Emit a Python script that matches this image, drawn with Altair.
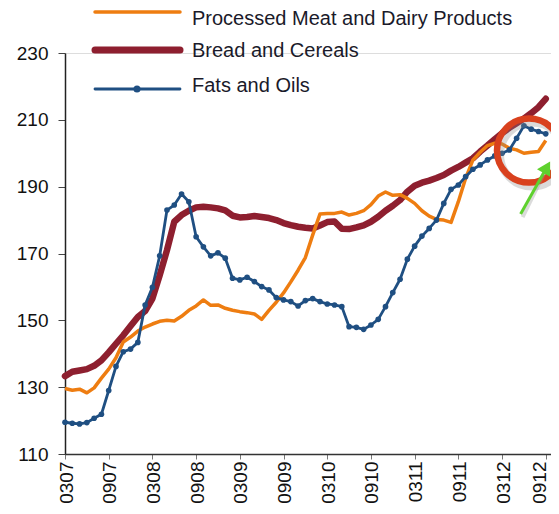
import altair as alt
import pandas as pd

# ---- data ----
tick_labels = ["0307", "0907", "0308", "0908", "0309", "0909",
               "0310", "0910", "0311", "0911", "0312", "0912"]
tick_months = [0, 6, 12, 18, 24, 30, 36, 42, 48, 54, 60, 66]

processed_meat_dairy = [
    129.6, 129.1, 129.4, 128.3, 129.8, 132.7, 135.4, 138.8, 143.5, 145.0,
    146.8, 148.0, 148.9, 149.7, 150.0, 149.8, 151.2, 153.0, 154.3, 156.1,
    154.5, 154.6, 153.6, 153.0, 152.6, 152.3, 151.9, 150.3, 153.0, 155.4,
    158.2, 161.5, 165.0, 168.8, 175.5, 181.8, 182.0, 182.0, 182.4, 181.5,
    182.0, 182.8, 184.6, 187.2, 188.4, 187.4, 187.6, 186.5, 185.0, 182.8,
    181.2, 180.2, 180.0, 179.3, 185.5, 192.5, 198.0, 200.3, 202.3, 203.0,
    202.8, 201.5, 201.0, 200.0, 200.3, 200.5, 203.8]

bread_cereals = [
    133.3, 134.6, 135.0, 135.4, 136.4, 138.0, 140.4, 143.0, 145.5, 148.3,
    151.0, 152.8, 156.5, 163.5, 171.0, 179.5, 181.5, 182.8, 183.8, 184.0,
    183.8, 183.5, 182.9, 181.3, 180.8, 180.9, 181.2, 180.9, 180.6, 180.0,
    179.1, 178.5, 178.0, 177.7, 177.5, 178.4, 179.4, 179.6, 177.4, 177.3,
    177.8, 178.4, 179.5, 181.0, 182.8, 184.3, 186.0, 188.5, 190.3, 191.2,
    191.8, 192.6, 193.5, 194.8, 195.9, 197.2, 198.5, 200.5, 202.3, 204.2,
    206.0, 207.6, 209.0, 210.4, 212.0, 213.8, 216.3]

fats_oils = [
    119.5, 119.2, 119.0, 119.4, 120.7, 121.9, 129.0, 136.2, 140.6, 141.4,
    143.4, 154.6, 159.9, 169.3, 183.0, 184.5, 187.8, 185.5, 175.0, 172.0,
    169.3, 170.2, 168.6, 162.6, 162.1, 162.9, 161.6, 160.1, 159.1, 156.8,
    156.1, 155.6, 154.3, 155.9, 156.5, 155.6, 154.9, 154.6, 154.1, 148.1,
    147.9, 147.3, 148.6, 150.3, 154.1, 158.3, 162.3, 168.3, 172.2, 175.2,
    177.5, 180.0, 185.0, 189.2, 190.5, 193.0, 195.2, 196.5, 198.0, 199.2,
    200.0, 201.0, 204.5, 208.2, 207.2, 206.5, 205.8]

series_names = ["Processed Meat and Dairy Products", "Bread and Cereals", "Fats and Oils"]
series_colors = ["#EE7D11", "#8E1F2F", "#1F4F82"]

# annotation (highlight circle and arrow), in data units
circle_idx = [63.7]
circle_val = [200.8]
arrow_tail_idx = [62.55]
arrow_tail_val = [181.8]
arrow_head_idx = [66.15]
arrow_head_val = [195.8]

# ---- tables ----
n = len(fats_oils)
months = list(range(n))
df = pd.DataFrame({
    "idx": months * 3,
    "value": processed_meat_dairy + bread_cereals + fats_oils,
    "series": [series_names[0]] * n + [series_names[1]] * n + [series_names[2]] * n,
})

FONT = "Liberation Sans, Arial, sans-serif"
label_js = "[" + ",".join("'%s'" % t for t in tick_labels) + "]"

x_enc = alt.X("idx:Q",
              scale=alt.Scale(domain=[0, 66.72], nice=False, zero=False),
              axis=alt.Axis(values=tick_months, labelExpr=label_js + "[round(datum.value/6)]",
                            labelAngle=-90, labelFontSize=19, labelFont=FONT,
                            labelColor="#111", tickSize=5, tickColor="#777",
                            labelPadding=2, domainColor="#333", domainWidth=1.5,
                            labelOffset={"expr": "datum.value >= 66 ? -6 : 1"},
                            grid=False, title=None))
y_enc = alt.Y("value:Q",
              scale=alt.Scale(domain=[110, 230], nice=False, zero=False),
              axis=alt.Axis(values=[110, 130, 150, 170, 190, 210, 230],
                            labelFontSize=19, labelFont=FONT, labelColor="#111",
                            tickSize=7, tickColor="#444", labelPadding=10,
                            domainColor="#222", domainWidth=1.5, grid=False, title=None))

def series_df(name):
    return df[df["series"] == name]

red = alt.Chart(series_df(series_names[1])).mark_line(
    color=series_colors[1], strokeWidth=6.5, strokeCap="round", strokeJoin="round"
).encode(x=x_enc, y=y_enc)

orange = alt.Chart(series_df(series_names[0])).mark_line(
    color=series_colors[0], strokeWidth=3.5, strokeJoin="round"
).encode(x=x_enc, y=y_enc)

blue = alt.Chart(series_df(series_names[2])).mark_line(
    color=series_colors[2], strokeWidth=2.8, strokeJoin="round"
).encode(x=x_enc, y=y_enc)

blue_pts = alt.Chart(series_df(series_names[2])).mark_point(
    color=series_colors[2], filled=True, size=32, opacity=1
).encode(x=x_enc, y=y_enc)

# annotation circle with soft shadow
circ_df = pd.DataFrame({"idx": circle_idx, "value": circle_val})
circ_shadow = alt.Chart(circ_df).mark_point(
    shape="circle", filled=False, size=4100, strokeWidth=8, color="#888",
    opacity=0.3, xOffset=3, yOffset=4
).encode(x=x_enc, y=y_enc)
circ = alt.Chart(circ_df).mark_point(
    shape="circle", filled=False, size=4100, strokeWidth=6.5, color="#D9411E", opacity=1
).encode(x=x_enc, y=y_enc)

arrow_df = pd.DataFrame({"idx": arrow_tail_idx, "value": arrow_tail_val,
                         "idx2": arrow_head_idx, "value2": arrow_head_val})
arrow_shadow = alt.Chart(arrow_df).mark_rule(
    color="#999", strokeWidth=4, opacity=0.35, xOffset=2, yOffset=3
).encode(x=x_enc, y=y_enc, x2="idx2:Q", y2="value2:Q")
arrow = alt.Chart(arrow_df).mark_rule(
    color="#5ED12E", strokeWidth=3
).encode(x=x_enc, y=y_enc, x2="idx2:Q", y2="value2:Q")
head_df = pd.DataFrame({"idx": arrow_head_idx, "value": arrow_head_val})
arrow_head = alt.Chart(head_df).mark_point(
    shape="triangle-up", filled=True, size=230, angle=30, color="#5ED12E", opacity=1
).encode(x=x_enc, y=y_enc)

# ---- legend (drawn at the top, outside / over the plot) ----
legend_line_y = [-41, -3, 36]
legend_text_y = [-34, -2, 33]
legend_widths = [3.5, 7, 2.8]
legend_layers = []
for i, name in enumerate(series_names):
    one = pd.DataFrame({"label": [name]})
    legend_layers.append(
        alt.Chart(one).mark_rule(color=series_colors[i], strokeWidth=legend_widths[i],
                                 strokeCap="round")
        .encode(x=alt.value(30), x2=alt.value(115), y=alt.value(legend_line_y[i]))
    )
    legend_layers.append(
        alt.Chart(one).mark_text(align="left", baseline="middle", fontSize=20,
                                 font=FONT, color="#1a1a2a")
        .encode(text="label:N", x=alt.value(127), y=alt.value(legend_text_y[i]))
    )
legend_layers.append(
    alt.Chart(pd.DataFrame({"label": [series_names[2]]})).mark_point(
        color=series_colors[2], filled=True, size=50, opacity=1
    ).encode(x=alt.value(72), y=alt.value(legend_line_y[2]))
)

chart = alt.layer(
    red, orange, blue, blue_pts, circ_shadow, circ, arrow_shadow, arrow, arrow_head,
    *legend_layers
).properties(
    width=486, height=401,
    autosize=alt.AutoSizeParams(type="none"),
    padding={"left": 57, "top": 45, "right": 0, "bottom": 49},
).configure_view(stroke=None).configure(background="white")

chart.save("out.html", embed_options={"renderer": "svg", "actions": False})
